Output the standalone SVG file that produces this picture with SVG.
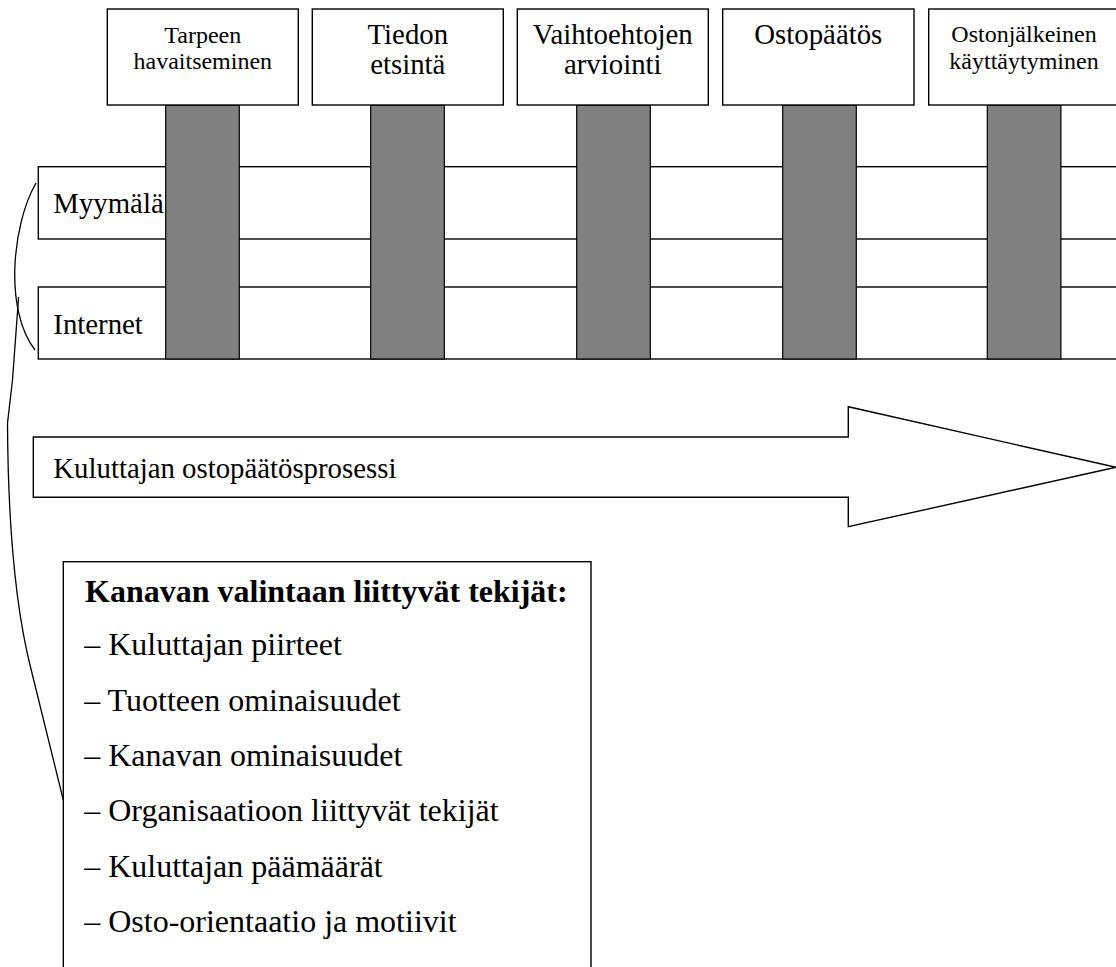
<svg xmlns="http://www.w3.org/2000/svg" width="1116" height="967" viewBox="0 0 1116 967">
<style>
.box{fill:#fff;stroke:#000;stroke-width:1.4}
.bar{fill:#808080;stroke:#000;stroke-width:1.2}
text{font-family:'Liberation Serif','Times New Roman',serif;fill:#000}
.s24{font-size:24px}
.s29{font-size:28.8px}
.s32{font-size:32px}
.c{text-anchor:middle}
.line{fill:none;stroke:#000;stroke-width:1.3}
</style>
<rect width="1116" height="967" fill="#fff"/>
<g id="row-myymala">
<rect class="box" x="38.3" y="166.7" width="1090" height="72.3"/>
<text class="s29" x="53.3" y="213.3">Myymälä</text>
</g>
<g id="row-internet">
<rect class="box" x="38.3" y="287" width="1090" height="72"/>
<text class="s29" x="53.3" y="334.3">Internet</text>
</g>
<g id="stage1">
<rect class="bar" x="165.7" y="105" width="73.6" height="254"/>
<rect class="box" x="107.3" y="9" width="191" height="96"/>
<text class="s24 c" x="202.8" y="42.5">Tarpeen</text>
<text class="s24 c" x="202.8" y="69.3">havaitseminen</text>
</g>
<g id="stage2">
<rect class="bar" x="370.7" y="105" width="73.6" height="254"/>
<rect class="box" x="312.3" y="9" width="191" height="96"/>
<text class="s29 c" x="407.8" y="43.5">Tiedon</text>
<text class="s29 c" x="407.8" y="74">etsintä</text>
</g>
<g id="stage3">
<rect class="bar" x="576.7" y="105" width="73.6" height="254"/>
<rect class="box" x="517.3" y="9" width="191" height="96"/>
<text class="s29 c" x="612.8" y="43.5">Vaihtoehtojen</text>
<text class="s29 c" x="612.8" y="74">arviointi</text>
</g>
<g id="stage4">
<rect class="bar" x="782.7" y="105" width="73.6" height="254"/>
<rect class="box" x="722.7" y="9" width="191.3" height="96"/>
<text class="s29 c" x="818.3" y="43.5">Ostopäätös</text>
</g>
<g id="stage5">
<rect class="bar" x="987.3" y="105" width="73.6" height="254"/>
<rect class="box" x="928.7" y="9" width="191" height="96"/>
<text class="s24 c" x="1024" y="41.8">Ostonjälkeinen</text>
<text class="s24 c" x="1024" y="69">käyttäytyminen</text>
</g>
<g id="process-arrow">
<path class="box" d="M33.3,437 H848.3 V406.7 L1116,467.3 L848.3,526.7 V497.3 H33.3 Z"/>
<text class="s29" x="53.3" y="478.3">Kuluttajan ostopäätösprosessi</text>
</g>
<g id="factors">
<rect class="box" x="63.3" y="561.7" width="527.7" height="430"/>
<text class="s32" x="85" y="601.7" font-weight="bold">Kanavan valintaan liittyvät tekijät:</text>
<text class="s32" x="84.2" y="655.3">– Kuluttajan piirteet</text>
<text class="s32" x="84.2" y="710.7">– Tuotteen ominaisuudet</text>
<text class="s32" x="84.2" y="766">– Kanavan ominaisuudet</text>
<text class="s32" x="84.2" y="821.3">– Organisaatioon liittyvät tekijät</text>
<text class="s32" x="84.2" y="876.7">– Kuluttajan päämäärät</text>
<text class="s32" x="84.2" y="931.7">– Osto-orientaatio ja motiivit</text>
</g>
<g id="connectors">
<path class="line" d="M36,183 C12,225 4,310 35,350"/>
<path class="line" d="M18.6,297 L12.5,380 L7.5,423 C8,520 14,600 30,665 L63.3,800"/>
</g>
</svg>
